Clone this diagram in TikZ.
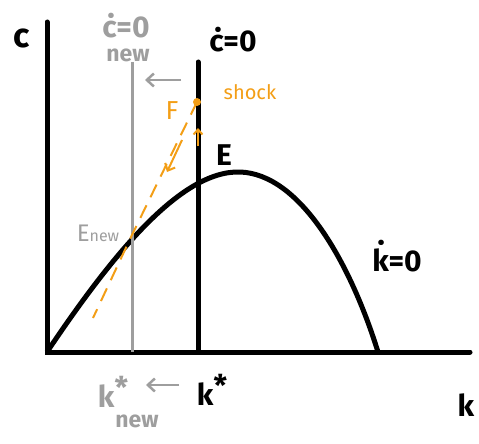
\documentclass[tikz,border=0pt]{standalone}
\usepackage{fontspec}
\setmainfont{Fira Sans}
\usetikzlibrary{arrows.meta}
\definecolor{shockorange}{RGB}{243,158,22}
\definecolor{newgray}{RGB}{158,158,158}
\begin{document}
\begin{tikzpicture}[x=1pt, y=-1pt,
    lab/.style={font=\fontsize{30}{30}\selectfont\bfseries, inner sep=0pt},
    sublab/.style={font=\fontsize{23}{23}\selectfont\bfseries, inner sep=0pt},
    move/.style={newgray, line width=2.5pt, -{Straight Barb[length=7pt,width=13pt]}}]

        \useasboundingbox (0,0) rectangle (479,444);

        % Axes
        \draw[line width=5pt, line cap=round] (47,22) -- (47,352) -- (470,352);
        \node[lab, font=\fontsize{34}{34}\selectfont\bfseries] (clab) at (22,38) {c};
        \node[lab] (klab) at (466,405) {k};

        % kdot = 0 locus
        \draw[line width=5pt] (47,352) .. controls (110,258) and (180,170) .. (240,172)
            .. controls (300,174) and (350,262) .. (378,352);
        \node[lab] (kdot) at (397,256) {\.{k}=0};

        % old and new cdot = 0 loci
        \draw[newgray, line width=3pt] (132,62) -- (132,352);
        \draw[line width=5pt, line cap=round] (198,62) -- (198,352);
        \node[lab] (cdot) at (233,40) {\.{c}=0};
        \node[lab, newgray] (cdotnew) at (126,26) {\.{c}=0};
        \node[sublab, newgray] (cdotnewsub) at (128,55) {new};

        % shift of the locus
        \coordinate (shiftA) at (181,80);
        \coordinate (shiftB) at (145,80);
        \draw[move] (shiftA) -- (shiftB);

        % steady states
        \node[lab] (E) at (224,155) {E};
        \node[newgray, inner sep=0pt] (Enew) at (98,233)
            {\fontsize{24}{24}\selectfont E\fontsize{16}{16}\selectfont new};

        % jump and saddle path
        \coordinate (F) at (197,102);
        \coordinate (Enewpt) at (131,237);
        \coordinate (pathend) at (93,318);
        \draw[shockorange, line width=2pt, dash pattern=on 14pt off 9pt] (F) -- (Enewpt) -- (pathend);
        \draw[shockorange, line width=2pt, -{Straight Barb[length=6pt,width=11pt]}] (182,140) -- (167,172);
        \draw[shockorange, line width=2pt, -{Straight Barb[length=5pt,width=9pt]}] (198,146) -- (198,128);
        \fill[shockorange] (F) circle[radius=4pt];
        \node[lab, shockorange, font=\fontsize{26}{26}\selectfont] (Flab) at (172,111) {F};
        \node[shockorange, inner sep=0pt, font=\fontsize{20}{20}\selectfont] (shock) at (250,92) {shock};

        % steady state capital
        \node[lab] (kstar) at (212,390) {k\raisebox{0.3em}{*}};
        \node[lab, newgray] (kstarnew) at (113,392) {k\raisebox{0.3em}{*}};
        \node[sublab, newgray] (kstarnewsub) at (137,421) {new};
        \coordinate (shiftC) at (179,385);
        \coordinate (shiftD) at (146,385);
        \draw[move] (shiftC) -- (shiftD);

\end{tikzpicture}
\end{document}
